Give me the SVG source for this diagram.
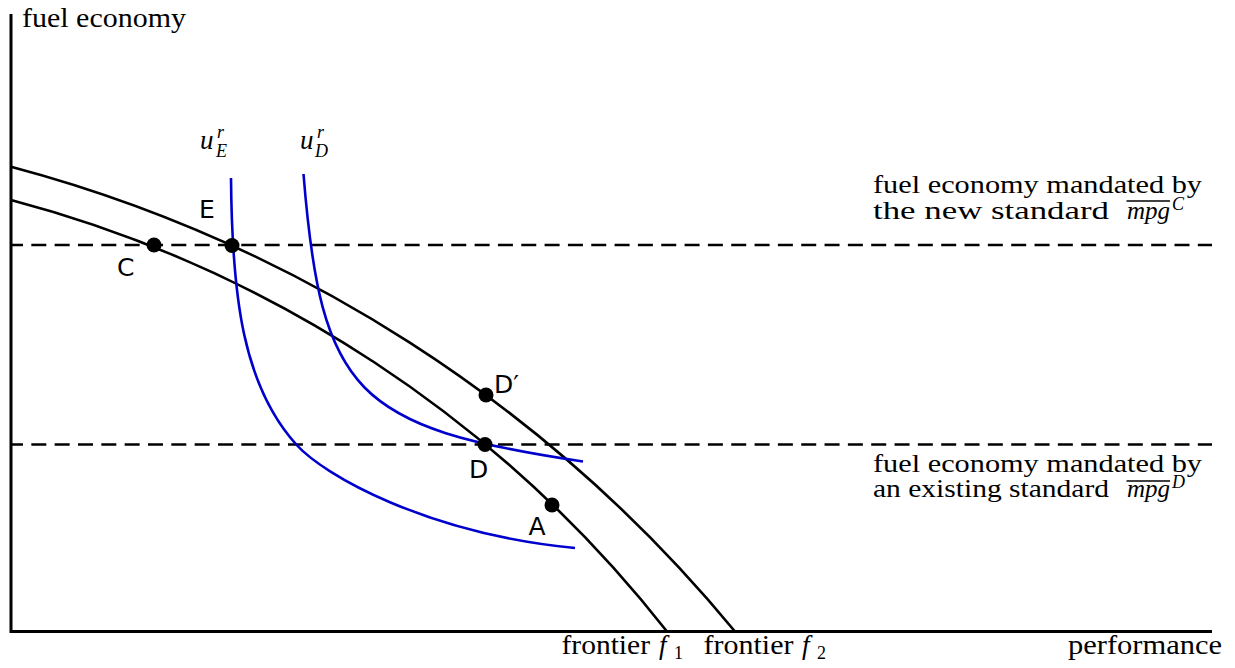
<svg xmlns="http://www.w3.org/2000/svg" width="1235" height="668" viewBox="0 0 1235 668">
<style>
.ax{stroke:#000;stroke-width:3;fill:none}
.fr{stroke:#000;stroke-width:2.6;fill:none}
.ic{stroke:#0000cc;stroke-width:2.6;fill:none}
.dash{stroke:#000;stroke-width:2.6;stroke-dasharray:15 8.33;stroke-dashoffset:3;fill:none}
.dot{fill:#000}
.serif{font-family:"Liberation Serif","Times New Roman",serif;font-size:27px;fill:#000}
.r{font-size:25px}
.sm{font-size:18px}
.it{font-style:italic}
.sans{font-family:"DejaVu Sans",sans-serif;font-size:25px;fill:#000}
</style>
<rect width="1235" height="668" fill="#fff"/>
<g id="connectors">
  <path class="ax" d="M11 14 V631.5 H1212"/>
  <path class="dash" d="M11 245 H1212"/>
  <path class="dash" d="M11 444.5 H1212"/>
  <path id="f1" class="fr" d="M11 200 A1235 1235 0 0 1 667 631.5"/>
  <path id="f2" class="fr" d="M11 166.8 A1406 1406 0 0 1 735 631.5"/>
  <path id="uE" class="ic" d="M231 178 C232 298 243.1 385.8 296.7 445 C323.5 474.6 425.8 533.6 575 548"/>
  <path id="uD" class="ic" d="M303.5 174 C321.1 394 355.5 427.5 583 461.5"/>
</g>
<g id="axis-labels">
  <text class="serif" x="22" y="27" textLength="164" lengthAdjust="spacingAndGlyphs">fuel economy</text>
  <text class="serif" x="1068" y="654" textLength="154" lengthAdjust="spacingAndGlyphs">performance</text>
</g>
<g id="frontier-labels">
  <text class="serif" x="561.5" y="654" textLength="88.5" lengthAdjust="spacingAndGlyphs">frontier</text>
  <text class="serif it" x="659" y="654">f</text>
  <text class="serif sm" x="674" y="659">1</text>
  <text class="serif" x="703.5" y="654" textLength="90" lengthAdjust="spacingAndGlyphs">frontier</text>
  <text class="serif it" x="802" y="654">f</text>
  <text class="serif sm" x="817" y="659">2</text>
</g>
<g id="uE-label">
  <text class="serif it" x="200" y="149">u</text>
  <text class="serif it sm" x="217" y="138">r</text>
  <text class="serif it sm" x="216" y="157">E</text>
</g>
<g id="uD-label">
  <text class="serif it" x="300" y="149">u</text>
  <text class="serif it sm" x="317" y="138">r</text>
  <text class="serif it sm" x="315" y="157">D</text>
</g>
<g id="mpgC-label">
  <text class="serif r" x="873" y="193" textLength="329" lengthAdjust="spacingAndGlyphs">fuel economy mandated by</text>
  <text class="serif r" x="873" y="218.5" textLength="236" lengthAdjust="spacingAndGlyphs">the new standard</text>
  <text class="serif r it" x="1127" y="218.5" textLength="43" lengthAdjust="spacingAndGlyphs">mpg</text>
  <line x1="1126.5" y1="201" x2="1170" y2="201" stroke="#000" stroke-width="1.5"/>
  <text class="serif it sm" x="1172" y="210">C</text>
</g>
<g id="mpgD-label">
  <text class="serif r" x="873" y="471.5" textLength="329" lengthAdjust="spacingAndGlyphs">fuel economy mandated by</text>
  <text class="serif r" x="873" y="497" textLength="236" lengthAdjust="spacingAndGlyphs">an existing standard</text>
  <text class="serif r it" x="1127" y="497" textLength="43" lengthAdjust="spacingAndGlyphs">mpg</text>
  <line x1="1126.5" y1="481" x2="1170" y2="481" stroke="#000" stroke-width="1.5"/>
  <text class="serif it sm" x="1172" y="488">D</text>
</g>
<g id="node-C">
  <circle class="dot" cx="154" cy="245" r="7.5"/>
  <text class="sans" x="117" y="276">C</text>
</g>
<g id="node-E">
  <circle class="dot" cx="232" cy="245.5" r="7.5"/>
  <text class="sans" x="199" y="218">E</text>
</g>
<g id="node-Dprime">
  <circle class="dot" cx="486" cy="395" r="7.5"/>
  <text class="sans" x="494" y="393">D′</text>
</g>
<g id="node-D">
  <circle class="dot" cx="485" cy="444.5" r="7.5"/>
  <text class="sans" x="469" y="478">D</text>
</g>
<g id="node-A">
  <circle class="dot" cx="552" cy="505" r="7.5"/>
  <text class="sans" x="528.5" y="535">A</text>
</g>
</svg>
